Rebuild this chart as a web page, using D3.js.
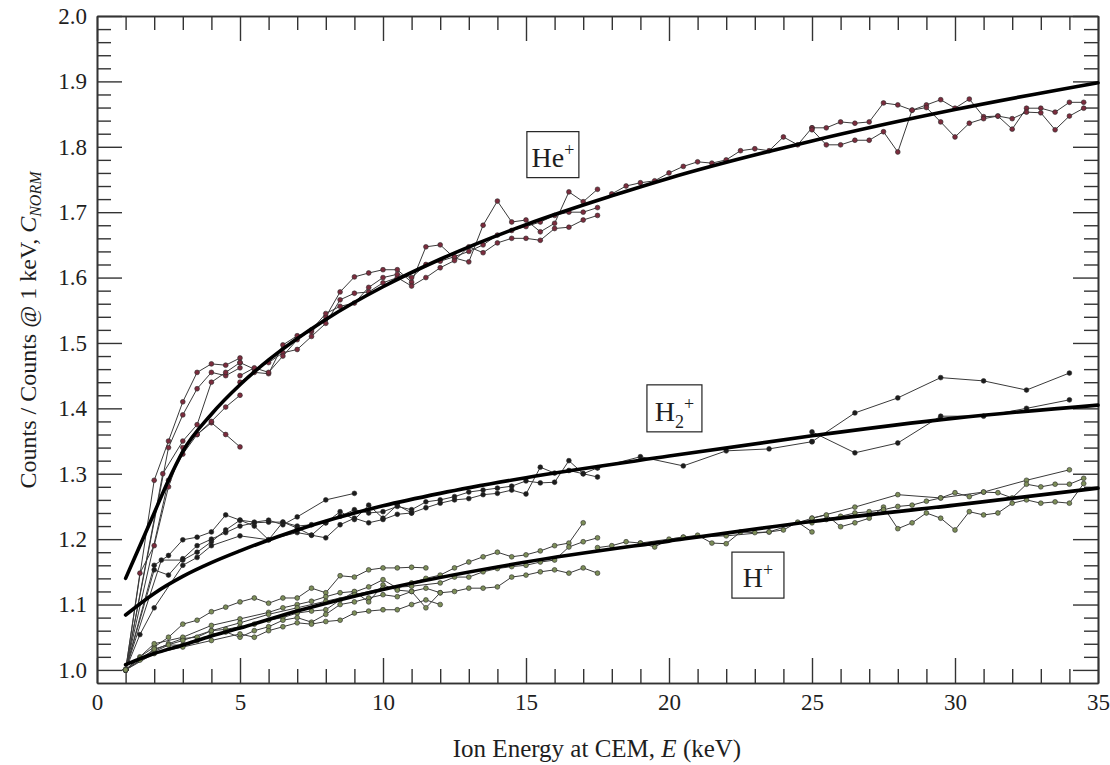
<!DOCTYPE html>
<html>
<head>
<meta charset="utf-8">
<script src="https://cdn.jsdelivr.net/npm/d3@7"></script>
<style>
  body { margin: 0; background: #fff; }
  svg text { font-family: "Liberation Serif", "Times New Roman", serif; fill: #1e1e1e; }
</style>
</head>
<body>
<svg id="chart" width="1110" height="765"></svg>
<script>
// ---- tick labels ----
const xTickLabels = [0, 5, 10, 15, 20, 25, 30, 35];
const yTickLabels = [1.0, 1.1, 1.2, 1.3, 1.4, 1.5, 1.6, 1.7, 1.8, 1.9, 2.0];

// ---- fitted curves (E keV, normalised counts) ----
const heFit = [[1,1.14],[1.5,1.19],[2,1.24],[2.5,1.29],[3,1.334],[4,1.391],[5,1.436],[6,1.474],[8,1.536],[10,1.586],[12,1.628],[15,1.681],[18,1.725],[20,1.752],[25,1.809],[30,1.857],[35,1.898]];
const h2Fit = [[1,1.084],[2,1.117],[3,1.143],[4,1.164],[5,1.182],[7,1.214],[10,1.251],[12,1.27],[15,1.294],[20,1.327],[25,1.358],[30,1.385],[35,1.405]];
const hFit  = [[1,1.008],[2,1.025],[3,1.038],[4,1.052],[5,1.064],[7,1.09],[10,1.123],[15,1.165],[20,1.197],[25,1.227],[30,1.252],[35,1.278]];

// ---- He+ runs ----
const heRunA = [[1,1.0],[2,1.29],[2.5,1.35],[3,1.41],[3.5,1.455],[4,1.468],[4.5,1.466],[5,1.477]];
const heRunB = [[1,1.0],[2.5,1.34],[3,1.39],[3.5,1.43],[4,1.455],[4.5,1.45],[5,1.462]];
const heRunC = [[1,1.0],[2.3,1.30],[3,1.35],[3.5,1.375],[4,1.44],[4.5,1.455],[5,1.47]];
const heRunD = [[1,1.0],[1.5,1.148],[2,1.19],[2.5,1.28],[3,1.34],[3.5,1.36],[4,1.378],[4.5,1.36],[5,1.341]];
const heRunE = [[1,1.0],[2.5,1.29],[3,1.33],[3.5,1.36],[4,1.38],[4.5,1.402],[5,1.42]];
const heMid1 = [[5,1.44],[5.5,1.455],[6,1.453],[6.5,1.497],[7,1.511],[7.5,1.517],[8,1.54],[8.5,1.578],[9,1.601],[9.5,1.607],[10,1.612],[10.5,1.612],[11,1.593],[11.5,1.647],[12,1.65],[12.5,1.63],[13,1.624],[13.5,1.68],[14,1.717],[14.5,1.685],[15,1.688],[15.5,1.67],[16,1.683],[16.5,1.731],[17,1.716],[17.5,1.735]];
const heMid2 = [[5,1.47],[5.5,1.46],[6,1.47],[6.5,1.485],[7,1.49],[7.5,1.51],[8,1.53],[8.5,1.566],[9,1.576],[9.5,1.578],[10,1.592],[10.5,1.60],[11,1.587],[11.5,1.60],[12,1.615],[12.5,1.626],[13,1.647],[13.5,1.638],[14,1.653],[14.5,1.66],[15,1.66],[15.5,1.657],[16,1.675],[16.5,1.677],[17,1.688],[17.5,1.695]];
const heMid3 = [[5,1.45],[5.5,1.462],[6,1.455],[6.5,1.48],[7,1.505],[7.5,1.52],[8,1.545],[8.5,1.556],[9,1.561],[9.5,1.585],[10,1.60],[10.5,1.605],[11,1.60],[11.5,1.62],[12,1.625],[12.5,1.632],[13,1.64],[13.5,1.65],[14,1.665],[14.5,1.672],[15,1.678],[15.5,1.685],[16,1.695],[16.5,1.70],[17,1.70],[17.5,1.707]];
const heHigh0 = [[18,1.728],[18.5,1.74],[19,1.745],[19.5,1.748],[20,1.76],[20.5,1.77],[21,1.777],[21.5,1.775],[22,1.78],[22.5,1.794],[23,1.797],[23.5,1.794],[24,1.815],[24.5,1.803],[25,1.829]];
const heHigh1 = [[25,1.829],[25.5,1.829],[26,1.838],[26.5,1.836],[27,1.838],[27.5,1.867],[28,1.864],[28.5,1.856],[29,1.864],[29.5,1.872],[30,1.859],[30.5,1.873],[31,1.846],[31.5,1.847],[32,1.827],[32.5,1.859],[33,1.859],[33.5,1.853],[34,1.868],[34.5,1.868]];
const heHigh2 = [[25,1.826],[25.5,1.803],[26,1.803],[26.5,1.81],[27,1.81],[27.5,1.823],[28,1.792],[28.5,1.856],[29,1.86],[29.5,1.838],[30,1.815],[30.5,1.836],[31,1.843],[31.5,1.847],[32,1.843],[32.5,1.853],[33,1.852],[33.5,1.826],[34,1.847],[34.5,1.859]];

// ---- H2+ runs ----
const h2RunA = [[1,1.0],[2,1.16],[2.5,1.175],[3,1.199],[3.5,1.203],[4,1.211],[4.5,1.237],[5,1.229],[5.5,1.226],[6,1.229],[6.5,1.222],[7,1.234],[8,1.26],[9,1.27]];
const h2RunB = [[1,1.0],[2.25,1.168],[3,1.168],[3.5,1.18],[4,1.196],[4.5,1.214],[5,1.229],[5.5,1.22],[6,1.199],[6.5,1.226],[7,1.217],[7.5,1.206],[8,1.225],[8.5,1.242],[9,1.23],[9.5,1.252],[10,1.232],[10.5,1.252],[11,1.24]];
const h2RunC = [[1,1.0],[2,1.153],[2.5,1.145],[3,1.17],[3.5,1.19],[4,1.2],[4.5,1.21],[5,1.22],[5.5,1.225],[6,1.226],[6.5,1.226],[7,1.22],[7.5,1.222],[8,1.225],[8.5,1.235],[9,1.245],[9.5,1.24],[10,1.242],[10.5,1.25],[11,1.245],[11.5,1.257],[12,1.26],[12.5,1.265],[13,1.272],[13.5,1.275],[14,1.278],[14.5,1.281],[15,1.289],[15.5,1.286],[16,1.287],[16.5,1.32],[17,1.30],[17.5,1.309]];
const h2RunD = [[1,1.0],[1.5,1.054],[2,1.095],[3,1.16],[3.5,1.172],[4,1.19],[5,1.205],[6,1.199],[7,1.21],[7.5,1.206],[8,1.202],[8.5,1.222],[9,1.232],[9.5,1.225],[10,1.23],[10.5,1.238],[11,1.24],[11.5,1.248],[12,1.255],[12.5,1.26],[13,1.262],[13.5,1.268],[14,1.27],[14.5,1.275],[15,1.269],[15.5,1.31],[16,1.301],[16.5,1.305],[17,1.30],[17.5,1.295]];
const h2Bridge = [[17.5,1.309],[19,1.326],[20.5,1.312],[22,1.335],[23.5,1.338],[25,1.349]];
const h2High1 = [[25,1.349],[26.5,1.393],[28,1.416],[29.5,1.447],[31,1.442],[32.5,1.428],[34,1.454]];
const h2High2 = [[25,1.364],[26.5,1.332],[28,1.347],[29.5,1.388],[31,1.388],[32.5,1.40],[34,1.413]];

// ---- H+ runs ----
const hLow1 = [[1,1.0],[1.5,1.02],[2,1.035],[2.5,1.05],[3,1.07],[3.5,1.076],[4,1.089],[4.5,1.096],[5,1.104],[5.5,1.11],[6,1.102],[6.5,1.11],[7,1.11],[7.5,1.125],[8,1.118],[8.5,1.144],[9,1.142],[9.5,1.153],[10,1.156],[10.5,1.156],[11,1.157],[11.5,1.156]];
const hLow2 = [[1,1.0],[1.5,1.018],[2,1.03],[2.5,1.04],[3,1.048],[3.5,1.05],[4,1.06],[4.5,1.062],[5,1.066],[5.5,1.07],[6,1.076],[6.5,1.08],[7,1.087],[7.5,1.09],[8,1.092],[8.5,1.107],[9,1.119],[9.5,1.127],[10,1.138],[10.5,1.125],[11,1.133],[11.5,1.14],[12,1.145],[12.5,1.156],[13,1.165],[13.5,1.173],[14,1.18],[14.5,1.173],[15,1.176],[15.5,1.182],[16,1.19],[16.5,1.194],[17,1.225]];
const hLow3 = [[1,1.0],[2,1.028],[2.5,1.038],[3,1.038],[3.5,1.045],[4,1.054],[4.5,1.058],[5,1.05],[5.5,1.06],[6,1.066],[6.5,1.076],[7,1.08],[7.5,1.073],[8,1.085],[8.5,1.10],[9,1.104],[9.5,1.11],[10,1.115],[10.5,1.112],[11,1.12],[11.5,1.125],[12,1.118],[12.5,1.12],[13,1.125],[13.5,1.125],[14,1.127],[14.5,1.142],[15,1.145],[15.5,1.15],[16,1.153],[16.5,1.148],[17,1.156],[17.5,1.148]];
const hLow4 = [[1,1.0],[2,1.025],[3,1.035],[4,1.045],[5,1.055],[5.5,1.05],[6,1.06],[6.5,1.066],[7,1.072],[7.5,1.07],[8,1.074],[8.5,1.076],[9,1.087],[9.5,1.09],[10,1.092],[10.5,1.092],[11,1.10],[11.5,1.107],[12,1.10]];
const hLow5 = [[1,1.0],[2,1.04],[3,1.05],[4,1.068],[5,1.078],[6,1.088],[6.5,1.095],[7,1.1],[7.5,1.105],[8,1.112],[8.5,1.118],[9,1.12],[9.5,1.104],[10,1.13],[10.5,1.122],[11,1.12],[11.5,1.095],[12,1.118]];
const hLow6 = [[1,1.0],[1.5,1.015],[2,1.032],[3,1.045],[4,1.06],[5,1.072],[6,1.085],[7,1.095],[8,1.105],[9,1.115],[10,1.125],[11,1.128],[12,1.133],[12.5,1.142],[13,1.142],[13.5,1.15],[14,1.155],[14.5,1.158],[15,1.16],[15.5,1.165],[16,1.168],[16.5,1.188],[17,1.196],[17.5,1.202]];
const hBridge = [[17.5,1.187],[18,1.19],[18.5,1.196],[19,1.194],[19.5,1.188],[20,1.2],[20.5,1.203],[21,1.206],[21.5,1.194],[22,1.193],[22.5,1.211],[23,1.21],[23.5,1.211],[24,1.214],[24.5,1.226],[25,1.211]];
const hHigh1 = [[19,1.194],[20.5,1.203],[22,1.205],[23.5,1.211],[25,1.232],[26.5,1.249],[28,1.268],[29.5,1.263],[31,1.272],[32.5,1.29],[34,1.306]];
const hHigh2 = [[25,1.232],[25.5,1.237],[26,1.219],[26.5,1.225],[27,1.232],[27.5,1.249],[28,1.216],[28.5,1.225],[29,1.24],[29.5,1.232],[30,1.214],[30.5,1.242],[31,1.237],[31.5,1.24],[32,1.255],[32.5,1.26],[33,1.255],[33.5,1.257],[34,1.255],[34.5,1.285]];
const hHigh3 = [[25,1.225],[25.5,1.23],[26,1.235],[26.5,1.24],[27,1.242],[27.5,1.245],[28,1.25],[28.5,1.252],[29,1.258],[29.5,1.263],[30,1.271],[30.5,1.265],[31,1.272],[31.5,1.271],[32,1.263],[32.5,1.284],[33,1.28],[33.5,1.284],[34,1.284],[34.5,1.293]];

// ---- ion labels (placed at data coords) ----
const ionLabels = [
  { ion: 'He', sub: '', E: 15.94, v: 1.788, w: 52, h: 46 },
  { ion: 'H', sub: '2', E: 20.19, v: 1.40, w: 55, h: 47 },
  { ion: 'H', sub: '', E: 23.11, v: 1.145, w: 52, h: 46 }
];

const runs = [
  ...[heRunA, heRunB, heRunC, heRunD, heRunE, heMid1, heMid2, heMid3, heHigh0, heHigh1, heHigh2].map(p => ({ sp: 'he', pts: p })),
  ...[h2RunA, h2RunB, h2RunC, h2RunD, h2Bridge, h2High1, h2High2].map(p => ({ sp: 'h2', pts: p })),
  ...[hLow1, hLow2, hLow3, hLow4, hLow5, hLow6, hBridge, hHigh1, hHigh2, hHigh3].map(p => ({ sp: 'h', pts: p }))
];
const markerFill = { he: '#7b2c3d', h2: '#1c1c1c', h: '#7c8d58' };

// ---- layout ----
const svg = d3.select('#chart');
const x = d3.scaleLinear().domain([0, 35]).range([97, 1098]);
const y = d3.scaleLinear().domain([0.98, 2.0]).range([683, 16]);

const xMinor = d3.range(0, 36).filter(v => v % 5 !== 0);
const yMinor = d3.range(1.0, 2.0, 0.02).map(v => +v.toFixed(2)).filter(v => Math.round(v * 100) % 10 !== 0);

function styleAxis(g) {
  g.select('.domain').attr('stroke', '#333').attr('stroke-width', 1.6);
  g.selectAll('.tick line').attr('stroke', '#333').attr('stroke-width', 1.4);
}
const labelStyle = g => g.selectAll('text')
  .attr('font-size', 23).attr('font-family', '"Liberation Serif", serif').attr('fill', '#1e1e1e');

// bottom
svg.append('g').attr('transform', 'translate(0,683)')
  .call(d3.axisBottom(x).tickValues(xTickLabels).tickSize(-25).tickSizeOuter(0).tickPadding(11).tickFormat(d3.format('d')))
  .call(styleAxis).call(labelStyle);
svg.append('g').attr('transform', 'translate(0,683)')
  .call(d3.axisBottom(x).tickValues(xMinor).tickSize(-14).tickSizeOuter(0).tickFormat(''))
  .call(styleAxis);
// top
svg.append('g').attr('transform', 'translate(0,16)')
  .call(d3.axisTop(x).tickValues(xTickLabels).tickSize(-25).tickSizeOuter(0).tickFormat(''))
  .call(styleAxis);
svg.append('g').attr('transform', 'translate(0,16)')
  .call(d3.axisTop(x).tickValues(xMinor).tickSize(-14).tickSizeOuter(0).tickFormat(''))
  .call(styleAxis);
// left
svg.append('g').attr('transform', 'translate(97,0)')
  .call(d3.axisLeft(y).tickValues(yTickLabels).tickSize(-25).tickSizeOuter(0).tickPadding(10).tickFormat(d3.format('.1f')))
  .call(styleAxis).call(labelStyle);
svg.append('g').attr('transform', 'translate(97,0)')
  .call(d3.axisLeft(y).tickValues(yMinor).tickSize(-14).tickSizeOuter(0).tickFormat(''))
  .call(styleAxis);
// right
svg.append('g').attr('transform', 'translate(1098,0)')
  .call(d3.axisRight(y).tickValues(yTickLabels).tickSize(-25).tickSizeOuter(0).tickFormat(''))
  .call(styleAxis);
svg.append('g').attr('transform', 'translate(1098,0)')
  .call(d3.axisRight(y).tickValues(yMinor).tickSize(-14).tickSizeOuter(0).tickFormat(''))
  .call(styleAxis);

// ---- data runs ----
const line = d3.line().x(d => x(d[0])).y(d => y(d[1]));
const plot = svg.append('g');

plot.selectAll('.run')
  .data(runs)
  .enter().append('path')
  .attr('class', 'run')
  .attr('d', d => line(d.pts))
  .attr('fill', 'none')
  .attr('stroke', '#3a3a3a')
  .attr('stroke-width', 1);

runs.forEach(r => {
  plot.append('g').selectAll('circle')
    .data(r.pts)
    .enter().append('circle')
    .attr('cx', d => x(d[0]))
    .attr('cy', d => y(d[1]))
    .attr('r', 2.4)
    .attr('fill', markerFill[r.sp])
    .attr('stroke', '#2a2a2a')
    .attr('stroke-width', 0.6);
});

// ---- fit curves ----
const fitLine = d3.line().x(d => x(d[0])).y(d => y(d[1])).curve(d3.curveMonotoneX);
plot.selectAll('.fit')
  .data([heFit, h2Fit, hFit])
  .enter().append('path')
  .attr('class', 'fit')
  .attr('d', fitLine)
  .attr('fill', 'none')
  .attr('stroke', '#000')
  .attr('stroke-width', 3.6)
  .attr('stroke-linecap', 'round');

// ---- ion labels ----
ionLabels.forEach(l => {
  const cx = x(l.E), cy = y(l.v);
  const g = svg.append('g').attr('transform', `translate(${cx - l.w / 2},${cy - l.h / 2})`);
  g.append('rect').attr('width', l.w).attr('height', l.h)
    .attr('fill', '#fff').attr('stroke', '#222').attr('stroke-width', 1.2);
  const t = g.append('text').attr('x', l.w / 2).attr('y', l.h - 11)
    .attr('text-anchor', 'middle').attr('font-size', 28);
  t.append('tspan').text(l.ion);
  if (l.sub) {
    t.append('tspan').attr('font-size', 18).attr('dy', 7).text(l.sub);
    t.append('tspan').attr('font-size', 18).attr('dy', -18).text('+');
  } else {
    t.append('tspan').attr('font-size', 18).attr('dy', -11).text('+');
  }
});

// ---- axis titles ----
const xt = svg.append('text').attr('x', 597).attr('y', 757)
  .attr('text-anchor', 'middle').attr('font-size', 25);
xt.append('tspan').text('Ion Energy at CEM, ');
xt.append('tspan').attr('font-style', 'italic').text('E');
xt.append('tspan').text(' (keV)');

const yt = svg.append('text').attr('transform', 'translate(36,330) rotate(-90)')
  .attr('text-anchor', 'middle').attr('font-size', 24);
yt.append('tspan').text('Counts / Counts @ 1 keV, ');
yt.append('tspan').attr('font-style', 'italic').text('C');
yt.append('tspan').attr('font-style', 'italic').attr('font-size', 16).attr('dy', 5).text('NORM');
</script>
</body>
</html>
